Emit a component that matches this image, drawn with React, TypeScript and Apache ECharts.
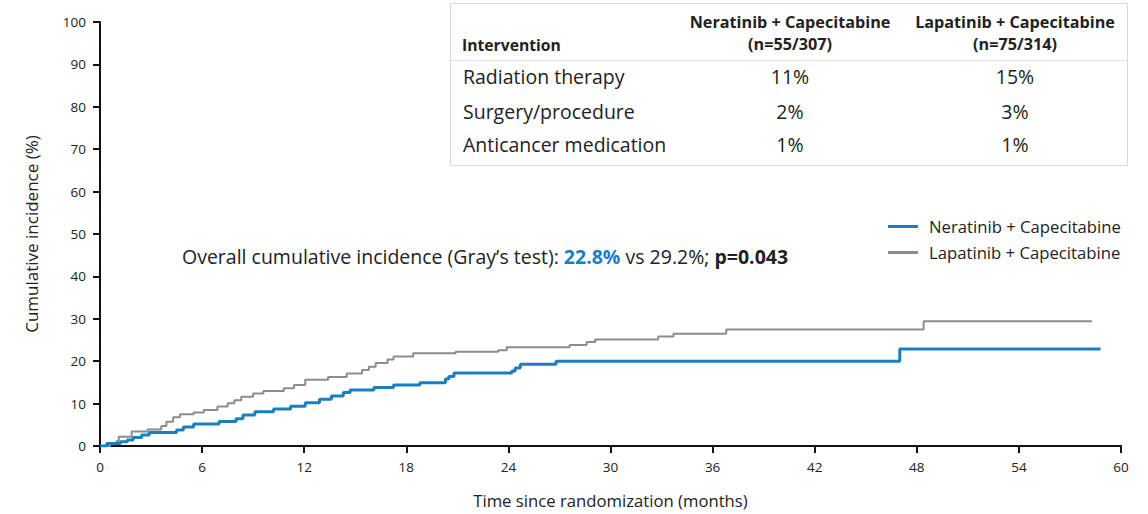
import React, { useEffect, useRef } from "react";
import * as echarts from "echarts";

const FONT = "'Open Sans', sans-serif";
const BLUE = "#1a7fc1";
const GRAY = "#8c8c8c";
const TEXT = "#222222";

const seriesNames = ["Neratinib + Capecitabine", "Lapatinib + Capecitabine"];

const neratinibMonths = [0, 0.4, 1.2, 1.6, 1.95, 2.45, 2.9, 4.5, 4.9, 5.5, 7.0, 8.0, 8.4, 9.1, 10.2, 11.2, 12.06, 12.9, 13.6, 14.3, 14.7, 16.1, 17.25, 18.8, 20.3, 20.5, 20.8, 24.2, 24.4, 24.7, 26.8, 47.0, 58.8];
const neratinibIncidence = [0, 0.6, 1.0, 1.4, 2.0, 2.6, 3.2, 3.8, 4.5, 5.2, 5.8, 6.4, 7.3, 8.1, 8.7, 9.4, 10.2, 11.0, 11.8, 12.6, 13.2, 13.8, 14.4, 14.9, 15.8, 16.4, 17.2, 17.7, 18.4, 19.3, 20.0, 22.9, 22.9];

const lapatinibMonths = [0, 0.6, 0.98, 1.1, 1.86, 2.8, 3.6, 3.9, 4.3, 4.7, 5.5, 6.1, 6.9, 7.5, 7.9, 8.3, 9.0, 9.6, 10.8, 11.4, 12.06, 13.4, 14.5, 15.4, 15.8, 16.2, 16.9, 17.25, 18.4, 20.9, 23.4, 23.9, 27.6, 28.6, 29.1, 32.8, 33.7, 36.8, 48.4, 58.3];
const lapatinibIncidence = [0, 0.6, 1.2, 2.2, 3.4, 3.9, 4.7, 5.7, 6.8, 7.5, 7.9, 8.5, 9.3, 10.1, 10.8, 11.6, 12.4, 13.0, 13.6, 14.4, 15.6, 16.3, 17.1, 17.9, 18.7, 19.6, 20.4, 21.1, 21.9, 22.2, 22.6, 23.3, 23.8, 24.5, 25.1, 25.8, 26.5, 27.5, 29.4, 29.4];

const tableColumnHeaders = [
  ["Neratinib + Capecitabine", "(n=55/307)"],
  ["Lapatinib + Capecitabine", "(n=75/314)"],
];
const tableRowLabels = ["Radiation therapy", "Surgery/procedure", "Anticancer medication"];
const neratinibPct = ["11%", "2%", "1%"];
const lapatinibPct = ["15%", "3%", "1%"];

const zip = (xs: number[], ys: number[]) => xs.map((x, i) => [x, ys[i]]);

export default function App() {
  const ref = useRef<HTMLDivElement>(null);
  useEffect(() => {
    if (!ref.current) return;
    const chart = echarts.init(ref.current, undefined, { renderer: "svg" });

    const rowYs = [76, 111, 144];
    const graphic: any[] = [
      {
        type: "rect",
        shape: { x: 450.5, y: 3.5, width: 677, height: 162 },
        style: { fill: "#ffffff", stroke: "#d9d9d9", lineWidth: 1 },
        z: 10,
      },
      {
        type: "line",
        shape: { x1: 451, y1: 60.5, x2: 1127, y2: 60.5 },
        style: { stroke: "#e3e3e3", lineWidth: 1 },
        z: 10,
      },
      {
        type: "text",
        x: 462,
        y: 45,
        z: 11,
        style: { text: "Intervention", fill: TEXT, font: `bold 15.7px ${FONT}`, textAlign: "left", textVerticalAlign: "middle" },
      },
    ];
    const colXs = [790, 1015];
    tableColumnHeaders.forEach((lines, ci) => {
      lines.forEach((t, li) => {
        graphic.push({
          type: "text",
          x: colXs[ci],
          y: 22 + li * 22,
          z: 11,
          style: { text: t, fill: TEXT, font: `bold 16.2px ${FONT}`, textAlign: "center", textVerticalAlign: "middle" },
        });
      });
    });
    tableRowLabels.forEach((label, ri) => {
      graphic.push({
        type: "text",
        x: 463,
        y: rowYs[ri],
        z: 11,
        style: { text: label, fill: TEXT, font: `19.5px ${FONT}`, textAlign: "left", textVerticalAlign: "middle" },
      });
      graphic.push({
        type: "text",
        x: colXs[0],
        y: rowYs[ri],
        z: 11,
        style: { text: neratinibPct[ri], fill: TEXT, font: `19.5px ${FONT}`, textAlign: "center", textVerticalAlign: "middle" },
      });
      graphic.push({
        type: "text",
        x: colXs[1],
        y: rowYs[ri],
        z: 11,
        style: { text: lapatinibPct[ri], fill: TEXT, font: `19.5px ${FONT}`, textAlign: "center", textVerticalAlign: "middle" },
      });
    });
    graphic.push({
      type: "text",
      x: 182,
      y: 256,
      z: 11,
      style: {
        text: "{a|Overall cumulative incidence (Gray\u2019s test): }{b|22.8%}{a| vs 29.2%; }{c|p=0.043}",
        textAlign: "left",
        textVerticalAlign: "middle",
        rich: {
          a: { fontFamily: FONT, fontSize: 19.5, fill: TEXT, color: TEXT },
          b: { fontFamily: FONT, fontSize: 19.5, fontWeight: "bold", fill: BLUE, color: BLUE },
          c: { fontFamily: FONT, fontSize: 19.5, fontWeight: "bold", fill: TEXT, color: TEXT },
        },
      },
    });

    chart.setOption({
      animation: false,
      textStyle: { fontFamily: FONT },
      grid: { left: 100, right: 27, top: 22, bottom: 68, containLabel: false },
      legend: {
        orient: "vertical",
        left: 883,
        top: 213,
        itemWidth: 30,
        itemHeight: 3,
        itemGap: 9,
        icon: "rect",
        textStyle: { fontFamily: FONT, fontSize: 16.7, color: TEXT, padding: [0, 0, 0, 6] },
        data: seriesNames,
      },
      xAxis: {
        type: "value",
        min: 0,
        max: 60,
        interval: 6,
        name: "Time since randomization (months)",
        nameLocation: "middle",
        nameGap: 46,
        nameTextStyle: { fontFamily: FONT, fontSize: 16.7, color: TEXT },
        axisLine: { lineStyle: { color: "#111", width: 2 } },
        axisTick: { show: true, length: 7, lineStyle: { color: "#111", width: 2 } },
        axisLabel: { fontFamily: FONT, fontSize: 13.5, color: TEXT, margin: 14 },
        splitLine: { show: false },
      },
      yAxis: {
        type: "value",
        min: 0,
        max: 100,
        interval: 10,
        name: "Cumulative incidence (%)",
        nameLocation: "middle",
        nameRotate: 90,
        nameGap: 60,
        nameTextStyle: { fontFamily: FONT, fontSize: 17, color: TEXT },
        axisLine: { show: true, lineStyle: { color: "#111", width: 2 } },
        axisTick: { show: true, length: 7, lineStyle: { color: "#111", width: 2 } },
        axisLabel: { fontFamily: FONT, fontSize: 13.5, color: TEXT, margin: 14 },
        splitLine: { show: false },
      },
      series: [
        {
          name: seriesNames[0],
          type: "line",
          step: "end",
          showSymbol: false,
          symbol: "none",
          data: zip(neratinibMonths, neratinibIncidence),
          lineStyle: { color: BLUE, width: 3 },
          itemStyle: { color: BLUE },
          z: 3,
        },
        {
          name: seriesNames[1],
          type: "line",
          step: "end",
          showSymbol: false,
          symbol: "none",
          data: zip(lapatinibMonths, lapatinibIncidence),
          lineStyle: { color: GRAY, width: 2 },
          itemStyle: { color: GRAY },
          z: 2,
        },
      ],
      graphic,
    });
    return () => chart.dispose();
  }, []);
  return <div ref={ref} style={{ position: "absolute", left: 0, top: 0, width: 1148, height: 514 }} />;
}
